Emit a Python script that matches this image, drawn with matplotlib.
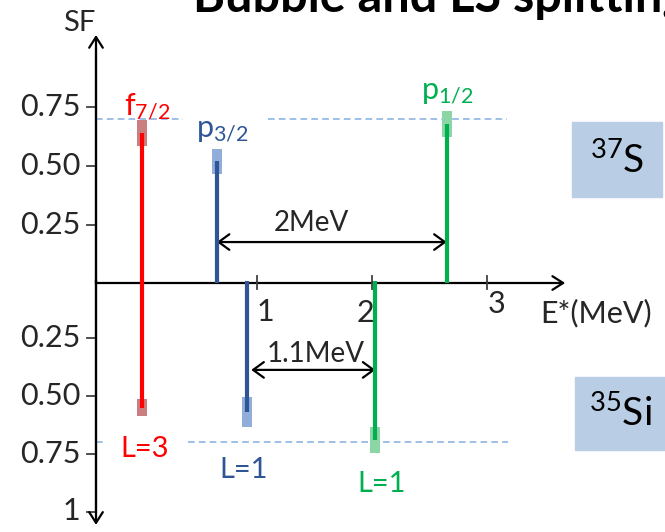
import matplotlib
matplotlib.use("Agg")
import matplotlib.pyplot as plt
from matplotlib.patches import Rectangle

plt.rcParams['font.family'] = ['Lato', 'DejaVu Sans']
plt.rcParams['mathtext.fontset'] = 'custom'
plt.rcParams['mathtext.rm'] = 'Lato'

# data
states = [r'$\mathregular{f_{7/2}}$', r'$\mathregular{p_{3/2}}$', r'$\mathregular{p_{1/2}}$']
colors = ['#FF0000', '#2F5597', '#00B050']
box_colors = ['#CB7E80', '#91AEDA', '#8CD6A6']
L_labels = ['L=3', 'L=1', 'L=1']

E_37S = [0.0, 0.65, 2.65]
SF_37S = [0.64, 0.52, 0.68]
err_37S = [0.055, 0.053, 0.055]

E_35Si = [0.0, 0.91, 2.03]
SF_35Si = [0.55, 0.57, 0.69]
err_35Si = [0.036, 0.064, 0.056]

sf_ticks = [0.25, 0.50, 0.75]
sf_ticks_low = [0.25, 0.50, 0.75, 1]
e_ticks = [1, 2, 3]

axis_col = '#404040'
dash_col = '#8EB4E3'
txt_col = '#262626'

fig = plt.figure(figsize=(6.65, 5.32), dpi=100)
top = fig.add_axes([0, 249/532, 1, 283/532])
low = fig.add_axes([0, 0, 1, 251.5/532])
xl = (-142/115, 523/115)
top.set_xlim(xl)
top.set_ylim(0, 283/234)
low.set_xlim(xl)
low.set_ylim(251.5/231, 0)
for a in (top, low):
    a.axis('off')

Ey = -0.4  # position of the SF axis

# axes with arrows
arr = dict(arrowstyle='->,head_length=0.55,head_width=0.35', color='black', lw=1.6,
           mutation_scale=14, shrinkA=0, shrinkB=0)
top.annotate('', xy=(Ey, 1.06), xytext=(Ey, 0), arrowprops=arr, annotation_clip=False)
low.annotate('', xy=(Ey, 1.058), xytext=(Ey, 0), arrowprops=arr, annotation_clip=False)
top.annotate('', xy=(3.68, 0), xytext=(Ey, 0), arrowprops=arr, annotation_clip=False)
top.plot([Ey, Ey], [0, 1.0], color=axis_col, lw=1.6, clip_on=False)
low.plot([Ey, Ey], [0, 1.0], color=axis_col, lw=1.6, clip_on=False)

# y ticks
for t in sf_ticks:
    top.plot([Ey - 0.075, Ey], [t, t], color=axis_col, lw=1.3)
    top.text(-0.535, t, '%.2f' % t, ha='right', va='center', fontsize=22, color=txt_col)
for t in sf_ticks_low:
    lab = '1' if t == 1 else '%.2f' % t
    low.plot([Ey - 0.075, Ey], [t, t], color=axis_col, lw=1.3)
    low.text(-0.535, t, lab, ha='right', va='center', fontsize=22, color=txt_col)
top.text(-0.55, 1.11, 'SF', ha='center', va='center', fontsize=21, color=txt_col)

# x ticks
x_lab_pos = [(1.07, 0.135), (1.94, 0.14), (3.08, 0.10)]
for t, (xp, yp) in zip(e_ticks, x_lab_pos):
    top.plot([t, t], [0, 0.03], color=axis_col, lw=1.3)
    low.plot([t, t], [0, 0.035], color=axis_col, lw=1.3)
    low.text(xp, yp, str(t), ha='center', va='center', fontsize=22, color=txt_col)
low.text(3.95, 0.14, 'E*(MeV)', ha='center', va='center', fontsize=22, color=txt_col)

# dashed reference lines at SF ~ 0.7
for a, segs in ((top, [(-0.4, 0.357), (1.096, 3.174)]), (low, [(-0.4, -0.34), (0.4, 3.18)])):
    for x0, x1 in segs:
        a.plot([x0, x1], [0.70, 0.70], color=dash_col, lw=1.2, dashes=(4, 2.5))

# spectroscopic factors
bw = 0.087
top.bar(E_37S, [2 * e for e in err_37S], bottom=[s - e for s, e in zip(SF_37S, err_37S)],
        width=bw, color=box_colors, zorder=3)
top.vlines(E_37S, 0, SF_37S, colors=colors, lw=3, zorder=4)
low.bar(E_35Si, [2 * e for e in err_35Si], bottom=[s - e for s, e in zip(SF_35Si, err_35Si)],
        width=bw, color=box_colors, zorder=3)
low.vlines(E_35Si, 0, SF_35Si, colors=colors, lw=3, zorder=4)

# state labels
state_pos = [(0.043, 0.752), (0.70, 0.654), (2.652, 0.816)]
for s, c, (xp, yp) in zip(states, colors, state_pos):
    top.text(xp, yp, s, ha='center', va='center', fontsize=22, color=c)
L_pos = [(0.026, 0.729), (0.887, 0.820), (2.087, 0.881)]
for s, c, (xp, yp) in zip(L_labels, colors, L_pos):
    low.text(xp, yp, s, ha='center', va='center', fontsize=21, color=c)

# splitting arrows
dim = dict(arrowstyle='<->,head_length=0.55,head_width=0.4', color='black', lw=1.6,
           mutation_scale=14, shrinkA=0, shrinkB=0)
top.annotate('', xy=(E_37S[2], 0.175), xytext=(E_37S[1], 0.175), arrowprops=dim)
top.text(1.47, 0.256, '2MeV', ha='center', va='center', fontsize=20, color=txt_col)
low.annotate('', xy=(E_35Si[2], 0.387), xytext=(E_35Si[1] + 0.04, 0.387), arrowprops=dim)
low.text(1.513, 0.318, '1.1MeV', ha='center', va='center', fontsize=20, color=txt_col)

# nucleus boxes
top.add_patch(Rectangle((3.739, 0.368), 0.783, 0.32, color='#B9CDE5', clip_on=False))
top.text(4.13, 0.526, r'$\mathregular{^{37}S}$', ha='center', va='center', fontsize=28, color='black')
low.add_patch(Rectangle((3.765, 0.418), 0.9, 0.316, color='#B9CDE5', clip_on=False))
low.text(4.165, 0.574, r'$\mathregular{^{35}Si}$', ha='center', va='center', fontsize=28, color='black')

fig.text(193/665, 1 - 12/532, 'Bubble and LS splitting', ha='left', va='baseline',
         fontsize=35, fontweight='bold', color='black')

fig.savefig('out.png', dpi=100)
